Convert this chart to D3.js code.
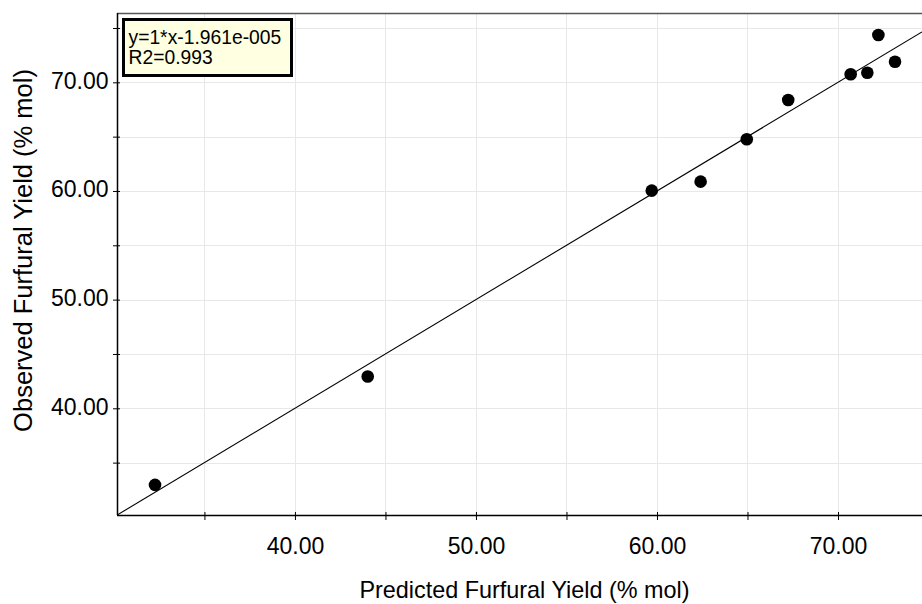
<!DOCTYPE html>
<html>
<head>
<meta charset="utf-8">
<script src="https://cdn.jsdelivr.net/npm/d3@7"></script>
<style>
    body { margin: 0; background: #fff; }
    svg { display: block; font-family: "Liberation Sans", Arial, sans-serif; }
</style>
</head>
<body>
<script>
// predicted vs observed furfural yield (% mol)
var predicted = [32.27, 44.02, 59.71, 62.41, 64.96, 67.25, 70.70, 71.62, 72.23, 73.15];
var observed = [32.95, 42.92, 60.03, 60.86, 64.76, 68.37, 70.74, 70.88, 74.35, 71.90];
var fitSlope = 1;
var fitIntercept = -1.961e-5;
var fitLabels = ["y=1*x-1.961e-005", "R2=0.993"];
var xTicks = [35, 40, 45, 50, 55, 60, 65, 70, 75];
var yTicks = [35, 40, 45, 50, 55, 60, 65, 70, 75];
var xDomain = [30.17, 74.64];
var yDomain = [30.18, 76.38];

var width = 922, height = 604;
var margin = {top: 13, right: 0, bottom: 89, left: 117};
var w = width - margin.left - margin.right;
var h = height - margin.top - margin.bottom;

var svg = d3.select("body").append("svg")
    .attr("width", width)
    .attr("height", height);

var g = svg.append("g")
    .attr("transform", "translate(" + margin.left + "," + margin.top + ")");

var x = d3.scaleLinear().domain(xDomain).range([0, w]);
var y = d3.scaleLinear().domain(yDomain).range([h, 0]);

var isMajor = function (d) { return d % 10 === 0; };

// grid
g.append("g").selectAll("line")
    .data(xTicks.filter(function (d) { return x(d) <= w; }))
    .enter().append("line")
    .attr("x1", function (d) { return Math.round(x(d)) + 0.5; })
    .attr("x2", function (d) { return Math.round(x(d)) + 0.5; })
    .attr("y1", 0).attr("y2", h)
    .attr("stroke", "#e8e8e8");

g.append("g").selectAll("line")
    .data(yTicks)
    .enter().append("line")
    .attr("y1", function (d) { return Math.round(y(d)) + 0.5; })
    .attr("y2", function (d) { return Math.round(y(d)) + 0.5; })
    .attr("x1", 0).attr("x2", w)
    .attr("stroke", "#e8e8e8");

// top border
g.append("line")
    .attr("x1", 0).attr("x2", w)
    .attr("y1", 0.5).attr("y2", 0.5)
    .attr("stroke", "#555")
    .attr("stroke-width", 1.5);

// fit line
g.append("clipPath").attr("id", "plotclip")
    .append("rect").attr("width", w).attr("height", h);

var line = d3.line()
    .x(function (d) { return x(d); })
    .y(function (d) { return y(fitSlope * d + fitIntercept); });

g.append("path")
    .datum(xDomain)
    .attr("clip-path", "url(#plotclip)")
    .attr("d", line)
    .attr("fill", "none")
    .attr("stroke", "#000")
    .attr("stroke-width", 1.1);

// axes
var xAxis = g.append("g")
    .attr("transform", "translate(0," + h + ")")
    .call(d3.axisBottom(x).tickValues(xTicks).tickSize(5)
        .tickFormat(function (d) { return isMajor(d) ? d3.format(".2f")(d) : ""; }));

var yAxis = g.append("g")
    .call(d3.axisLeft(y).tickValues(yTicks).tickSize(4)
        .tickFormat(function (d) { return isMajor(d) ? d3.format(".2f")(d) : ""; }));

[xAxis, yAxis].forEach(function (a) {
    a.select(".domain").attr("stroke", "#000").attr("stroke-width", 1.5);
    a.selectAll(".tick text")
        .attr("fill", "#000")
        .style("font-size", "23px")
        .style("font-family", "'Liberation Sans', Arial, sans-serif");
});
xAxis.select(".domain").attr("d", "M0,0.5H" + w);
yAxis.select(".domain").attr("d", "M0.5,0V" + h);
xAxis.selectAll(".tick line").attr("y1", -3).attr("stroke", "#000");
yAxis.selectAll(".tick line").attr("x2", 3).attr("x1", -4).attr("stroke", "#000");
xAxis.selectAll(".tick text").attr("y", 39).attr("dy", 0);
yAxis.selectAll(".tick text").attr("x", -8.5).attr("dy", "0.26em");

// points
g.append("g").selectAll("circle")
    .data(predicted)
    .enter().append("circle")
    .attr("cx", function (d) { return x(d); })
    .attr("cy", function (d, i) { return y(observed[i]); })
    .attr("r", 6.3)
    .attr("fill", "#000");

// equation box
var box = g.append("g").attr("transform", "translate(" + (123.5 - margin.left) + "," + (19.5 - margin.top) + ")");
box.append("rect")
    .attr("width", 168)
    .attr("height", 56)
    .attr("fill", "#ffffe1")
    .attr("stroke", "#000")
    .attr("stroke-width", 3);
box.selectAll("text")
    .data(fitLabels)
    .enter().append("text")
    .attr("x", 5)
    .attr("y", function (d, i) { return 24.5 + i * 20; })
    .style("font-size", "19.3px")
    .attr("fill", "#000")
    .text(function (d) { return d; });

// axis titles
svg.append("text")
    .attr("x", 524.5)
    .attr("y", 598)
    .attr("text-anchor", "middle")
    .style("font-size", "23.4px")
    .text("Predicted Furfural Yield (% mol)");

svg.append("text")
    .attr("transform", "translate(31.5,250.5) rotate(-90)")
    .attr("text-anchor", "middle")
    .style("font-size", "25.5px")
    .text("Observed Furfural Yield (% mol)");
</script>
</body>
</html>
